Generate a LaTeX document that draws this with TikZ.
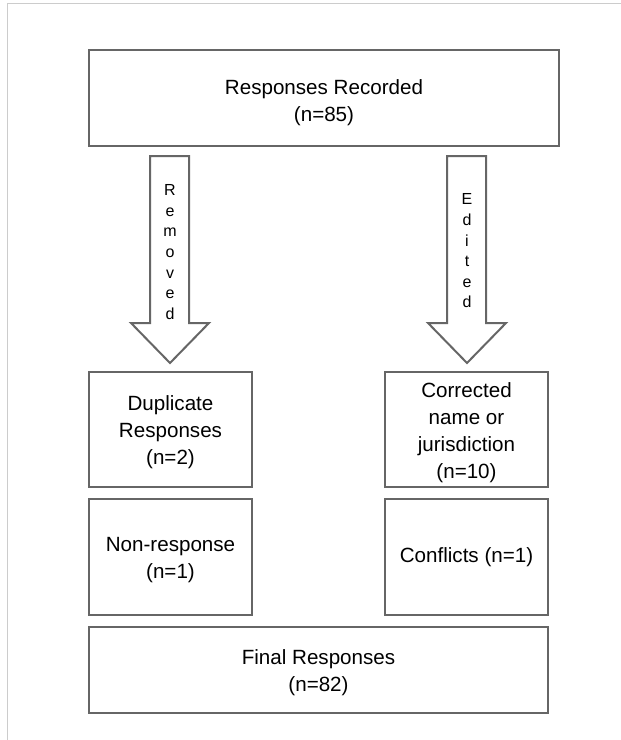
\documentclass[tikz,border=0pt]{standalone}
\usepackage{fontspec}
\setmainfont{Liberation Sans}
\usetikzlibrary{positioning}

\begin{document}
\begin{tikzpicture}
		[x=1pt,y=-1pt,
		box/.style={draw=black!60,line width=2pt,align=center,
			inner sep=0pt,font=\fontsize{20.6}{27}\selectfont},
		blockarrow/.style={draw=black!60,line width=2pt,fill=white,line join=miter},
		arrowtext/.style={align=center,inner sep=0pt,
			font=\fontsize{16}{20.6}\selectfont},
		frame/.style={draw=black!20,line width=1pt}]
		\useasboundingbox (0,0) rectangle (621,740);
		%---------------------marco ------------
		\draw[frame] (7,740) -- (7,3) -- (621,3);
		%---------------------caja superior ------------
		\node (recorded) at (324,98) [box,minimum width=470pt,minimum height=96pt]
		{\rule{0pt}{25pt}Responses Recorded\\(n=85)};
		%---------------------flechas ------------
		\draw[blockarrow] (150,156) -- (189,156) -- (189,323) -- (209,323)
		-- (170,363) -- (131,323) -- (150,323) -- cycle;
		\draw[blockarrow] (447,156) -- (486,156) -- (486,323) -- (506,323)
		-- (467,363) -- (428,323) -- (447,323) -- cycle;
		\node (removed) at (170,252) [arrowtext] {R\\e\\m\\o\\v\\e\\d};
		\node (edited) at (467,251) [arrowtext] {E\\d\\i\\t\\e\\d};
		%---------------------cajas izquierda ------------
		\node (duplicate) at (170.5,429.5) [box,minimum width=163pt,minimum height=115pt]
		{\rule{0pt}{21pt}Duplicate\\Responses\\(n=2)};
		\node (nonresp) at (170.5,557) [box,minimum width=163pt,minimum height=116pt]
		{\rule{0pt}{21pt}Non-response\\(n=1)};
		%---------------------cajas derecha ------------
		\node (corrected) at (466.5,429.5) [box,minimum width=163pt,minimum height=115pt]
		{\rule{0pt}{21pt}Corrected\\name or\\jurisdiction\\(n=10)};
		\node (conflicts) at (466.5,557) [box,minimum width=163pt,minimum height=116pt]
		{Conflicts (n=1)};
		%---------------------caja final ------------
		\node (final) at (318.5,670) [box,minimum width=459pt,minimum height=86pt]
		{\rule{0pt}{21pt}Final Responses\\(n=82)};
\end{tikzpicture}
\end{document}
